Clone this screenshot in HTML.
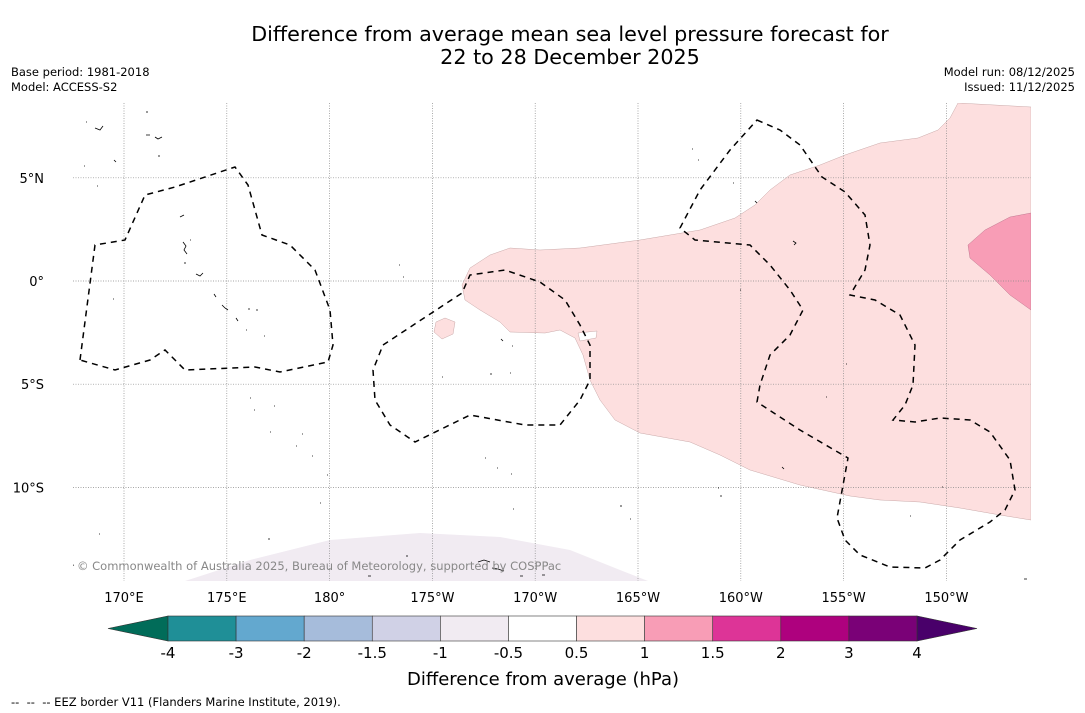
<!DOCTYPE html>
<html><head><meta charset="utf-8"><style>
body{margin:0;background:#fff;}
svg{display:block;font-family:"DejaVu Sans","Liberation Sans",sans-serif;}
</style></head><body>
<svg id="c" width="1085" height="713" viewBox="0 0 1085 713">
<rect width="1085" height="713" fill="#fff"/>
<text x="570" y="41" text-anchor="middle" font-size="20.7">Difference from average mean sea level pressure forecast for</text>
<text x="570" y="64" text-anchor="middle" font-size="20.7">22 to 28 December 2025</text>
<text x="11" y="76" font-size="11.5">Base period: 1981-2018</text>
<text x="11" y="91" font-size="11.5">Model: ACCESS-S2</text>
<text x="1075" y="76" font-size="11.5" text-anchor="end">Model run: 08/12/2025</text>
<text x="1075" y="91" font-size="11.5" text-anchor="end">Issued: 11/12/2025</text>

<g>
<clipPath id="mc"><rect x="73" y="103" width="958" height="478"/></clipPath>
<g clip-path="url(#mc)">
<path fill="#fddfdf" stroke="#c9a9a9" stroke-width="0.5" d="M1031,107 L958,103 950,118 938,130 918,138 880,143 845,155 820,165 790,175 770,190 755,205 735,218 700,230 640,240 580,248 540,250 510,248 490,255 470,268 462,285 465,300 480,310 500,322 510,332 545,333 560,330 575,338 583,355 590,380 600,400 615,420 640,433 690,442 720,455 750,470 800,485 850,496 880,500 920,502 960,508 1000,515 1031,520 Z"/>
<path fill="#fff" stroke="#c9a9a9" stroke-width="0.5" d="M578,333 L597,331 596,338 580,341 Z"/>
<path fill="#fddfdf" stroke="#c9a9a9" stroke-width="0.5" d="M436,322 L445,318 455,322 453,334 442,339 434,332 Z"/>
<path fill="#f89db6" stroke="#c07890" stroke-width="0.5" d="M1031,213 L1010,217 985,230 968,245 970,258 990,275 1010,295 1031,310 Z"/>
<path fill="#f1ebf2" d="M185,581 L250,560 330,540 420,533 500,537 570,550 620,570 648,581 Z"/>
<g id="grid" stroke="#888" stroke-width="0.7" stroke-dasharray="1,1.5"></g>
<g fill="none" stroke="#000" stroke-width="1.5" stroke-dasharray="6,5">
<path d="M80,360 L95,245 125,240 145,195 175,187 235,167 248,185 262,235 290,245 315,270 330,310 333,345 328,362 280,372 255,367 185,370 165,350 150,360 115,370 Z"/>
<path d="M383,345 L462,293 470,275 505,270 540,282 565,300 580,325 590,345 590,380 580,400 560,425 525,425 470,415 415,442 390,425 375,400 373,370 Z"/>
<path d="M757,120 L780,130 800,145 822,177 845,192 865,215 870,245 865,270 850,295 875,300 900,315 915,345 913,385 905,405 893,420 915,422 940,418 970,420 990,432 1010,460 1015,490 1005,510 990,522 960,540 940,560 925,568 890,567 860,555 845,540 837,518 848,458 800,430 757,402 760,385 770,355 790,335 803,310 790,290 770,265 750,245 695,240 680,228 700,190 730,150 Z"/>
</g>
<g fill="none" stroke="#000" stroke-width="0.8">
<path d="M70,110h1 M86,122h1 M95,128l5,2 3,-4 M147,111v2 M146,135h4 M155,137l3,2 4,-2 M159,155v2 M114,160l2,2 M84,166h1 M97,186h1 M180,217l4,-2 M183,242l3,4 -2,4 3,4 M190,240h1 M185,262v2 M196,274l4,2 3,-3 M60,292h1 M113,299h1 M214,294l2,3 M222,305l3,3 3,2 M236,318l2,3 M248,309h2 M256,310h2 M246,330h1 M264,336h1 M250,398h1 M254,410h1 M274,406h1 M270,432h1 M302,434h1 M296,446h1 M312,456h1 M327,475h1 M320,503h1 M64,484l2,1 M58,521h3 M99,534h1 M268,539h2 M54,556l2,2 M70,566l4,-1 M71,576h2 M407,555v2 M478,562l6,-2 6,2 M492,568l6,1 6,2 M368,576h3 M520,576h3 M542,575h3 M399,265h1 M403,277h1 M442,377h1 M490,374h2 M510,373h1 M501,339l2,2 M512,346h1 M485,458h1 M497,468h1 M511,474h1 M513,509h1 M621,505v2 M630,519h1 M718,488h1 M720,496h2 M782,467l2,2 M826,397h1 M846,364h1 M740,290h1 M793,241l3,2 -2,2 M755,201l2,2 M733,183h1 M692,149h1 M698,160h1 M910,516h1 M942,487h1 M1024,579h3"/>
</g>
<text x="77" y="570" font-size="11.5" fill="#888">© Commonwealth of Australia 2025, Bureau of Meteorology, supported by COSPPac</text>
</g>
<g id="xticks" font-size="13" text-anchor="middle"></g>
<g id="yticks" font-size="13" text-anchor="end"></g>
</g>
<g id="cbar"></g>
<text x="543" y="685" text-anchor="middle" font-size="18">Difference from average (hPa)</text>
<text x="11" y="706" font-size="11.5" xml:space="preserve" style="white-space:pre">--  --  -- EEZ border V11 (Flanders Marine Institute, 2019).</text>
</svg>
<script>
const lonTicks=[170,175,180,-175,-170,-165,-160,-155,-150];
const lonLabels=["170°E","175°E","180°","175°W","170°W","165°W","160°W","155°W","150°W"];
const latTicks=[5,0,-5,-10];
const latLabels=["5°N","0°","5°S","10°S"];
const cbBounds=[-4,-3,-2,-1.5,-1,-0.5,0.5,1,1.5,2,3,4];
const cbLabels=["-4","-3","-2","-1.5","-1","-0.5","0.5","1","1.5","2","3","4"];
const cbColors=["#1f8f97","#63a8cf","#a6bcdb","#d0d1e6","#f1ebf2","#ffffff","#fddfdf","#f89db6","#dd3497","#ae017e","#7a0177"];
const cbExt=["#016c59","#49006a"];
const NS="http://www.w3.org/2000/svg";
function el(t,a,p){const e=document.createElementNS(NS,t);for(const k in a)e.setAttribute(k,a[k]);p.appendChild(e);return e;}
function xLon(l){let d=l<0?l+360:l;return 124+(d-170)*20.56;}
function yLat(l){return 281-l*20.64;}
const grid=document.getElementById('grid'),xt=document.getElementById('xticks'),yt=document.getElementById('yticks');
lonTicks.forEach((l,i)=>{const x=xLon(l);
const g=el('line',{x1:x,x2:x,y1:103,y2:581},grid);


const t=el('text',{x:x,y:602},xt);t.textContent=lonLabels[i];

});
latTicks.forEach((l,i)=>{const y=yLat(l);
const g=el('line',{x1:73,x2:1031,y1:y,y2:y},grid);


const t=el('text',{x:44,y:y+5},yt);t.textContent=latLabels[i];

});
const cb=document.getElementById('cbar');
const n=cbColors.length,x0=168,x1=917,y0=616,y1=641,w=(x1-x0)/n;
const lt=el('polygon',{points:`${x0},${y0} ${x0},${y1} 108,${(y0+y1)/2}`,fill:cbExt[0],stroke:'#333','stroke-width':0.6},cb);


const rt=el('polygon',{points:`${x1},${y0} ${x1},${y1} 977,${(y0+y1)/2}`,fill:cbExt[1],stroke:'#333','stroke-width':0.6},cb);


cbColors.forEach((c,i)=>{const r=el('rect',{x:x0+i*w,y:y0,width:w,height:y1-y0,fill:c,stroke:'#333','stroke-width':0.6},cb);

});
cbBounds.forEach((b,i)=>{const t=el('text',{x:x0+i*w,y:658,'font-size':15,'text-anchor':'middle'},cb);t.textContent=cbLabels[i];

});
</script>
</body></html>
